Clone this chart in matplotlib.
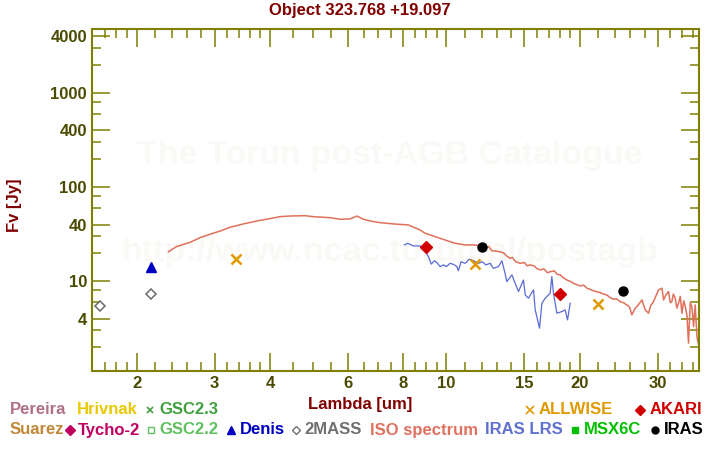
import matplotlib
matplotlib.use('Agg')
from matplotlib import pyplot as plt
from matplotlib.lines import Line2D
from matplotlib.ticker import FixedLocator, FixedFormatter, NullFormatter

plt.rcParams['font.family'] = ['Liberation Sans', 'DejaVu Sans']
plt.rcParams['font.weight'] = 'bold'

title = 'Object 323.768 +19.097'

# photometry, wavelength [um] and flux [Jy]
mass2_wl = [1.65, 2.16]
mass2_fx = [5.4, 7.4]
denis_wl = [2.15]
denis_fx = [14.3]
allwise_wl = [3.35, 11.6, 22.0]
allwise_fx = [17.1, 15.1, 5.7]
akari_wl = [9.0, 18.0]
akari_fx = [23.0, 7.3]
iras_wl = [12.0, 25.0]
iras_fx = [23.0, 7.9]

# ISO spectrum
iso_wl = [2.36, 2.46, 2.64, 2.78, 2.93, 3.09, 3.25, 3.48, 3.73, 4.00, 4.21, 4.44,
          4.80, 5.01, 5.47, 5.76, 6.06, 6.28, 6.50, 6.73, 7.09, 7.60, 8.21, 8.72,
          8.95, 9.43, 9.93, 10.46, 11.02, 11.61, 12.06, 12.3, 12.45, 12.66, 13.22,
          13.5, 13.7, 13.93, 14.1, 14.3, 14.67, 15.0, 15.2, 15.45, 15.8, 16.0,
          16.27, 16.6, 16.9, 17.14, 17.5, 17.8, 18.06, 18.3, 18.70, 19.0, 19.35,
          20.04, 20.4, 20.75, 21.1, 21.47, 22.23, 22.6, 23.01, 23.4, 23.82, 24.2,
          24.66, 25.1, 25.53, 25.9, 26.20, 26.66, 27.1, 27.61, 28.09, 28.58, 28.9,
          29.33, 29.7, 30.10, 30.64, 30.90, 31.3, 31.70, 32.0, 32.26, 32.5, 32.82,
          33.1, 33.39, 33.7, 33.99, 34.3, 34.58, 34.9, 35.17, 35.5, 35.80, 36.10,
          36.42, 36.74, 37.24, 38.0]
iso_fx = [20.6, 23.3, 25.9, 29.0, 31.6, 34.2, 37.4, 40.6, 43.6, 46.3, 48.5, 49.3,
          49.7, 48.5, 47.3, 45.5, 45.9, 49.3, 45.5, 43.6, 41.9, 40.6, 39.6, 35.0,
          32.3, 29.8, 27.4, 25.3, 24.3, 24.3, 23.3, 22.6, 23.4, 21.1, 20.6,
          19.8, 18.4, 17.5, 17.9, 16.2, 15.5, 15.8, 14.6, 14.9, 14.5, 13.6,
          13.2, 13.5, 12.3, 12.6, 12.9, 11.8, 11.7, 11.0, 10.3, 10.0, 9.5,
          8.9, 9.1, 8.43, 8.2, 7.89, 7.57, 7.3, 7.15, 6.7, 6.44, 6.5,
          6.07, 5.9, 5.60, 5.3, 4.39, 5.17, 5.6, 6.33, 4.96, 4.57, 5.5,
          6.07, 7.0, 8.09, 8.43, 6.33, 7.2, 7.76, 5.9, 6.07, 7.3, 6.60,
          5.2, 5.84, 6.9, 4.57, 6.2, 5.38, 4.3, 2.20, 5.9, 5.38, 3.30,
          5.60, 2.58, 1.87, 1.6]

# IRAS LRS spectrum
lrs_wl = [8.04, 8.18, 8.42, 8.72, 8.95, 9.11, 9.24, 9.40, 9.51, 9.68, 9.84, 10.0,
          10.19, 10.37, 10.56, 10.64, 10.79, 11.02, 11.25, 11.51, 11.81, 12.06,
          12.27, 12.55, 12.76, 13.10, 13.34, 13.50, 13.69, 14.05, 14.29, 14.54,
          14.92, 15.06, 15.31, 15.72, 15.86, 16.22, 16.42, 16.71, 17.14, 17.29,
          17.44, 17.75, 18.22, 18.53, 18.76, 19.02]
lrs_fx = [24.3, 25.3, 23.7, 23.7, 21.1, 18.2, 15.2, 16.5, 15.8, 14.3, 14.9, 14.3,
          15.5, 15.1, 14.3, 12.96, 16.1, 15.5, 17.1, 16.5, 15.5, 16.1,
          14.9, 15.5, 13.7, 14.3, 16.5, 13.2, 9.9, 11.7, 9.5, 7.76,
          10.3, 7.15, 6.60, 8.09, 4.96, 3.17, 5.84, 6.60, 7.46, 11.2,
          7.46, 4.57, 4.76, 4.96, 3.88, 5.84]

xticks = [2, 3, 4, 6, 8, 10, 15, 20, 30]
xminor = [1.7, 1.8, 1.9, 2.2, 2.4, 2.6, 2.8, 3.2, 3.4, 3.6, 3.8, 4.5, 5, 5.5,
          6.5, 7, 7.5, 8.5, 9, 9.5, 11, 12, 13, 14, 16, 17, 18, 19, 22, 24, 26,
          28, 32, 34, 36]
yticks = [4, 10, 40, 100, 400, 1000, 4000]
yminor = [2, 3, 6, 8, 20, 30, 60, 80, 200, 300, 600, 800, 2000, 3000]

olive = '#808000'
darkred = '#800000'
labcol = '#4a4a00'

fig = plt.figure(figsize=(7.2, 4.5), dpi=100)
ax = fig.add_axes([92.5 / 720, 1 - 370.7 / 450, (699.3 - 92.5) / 720, (370.7 - 29.3) / 450])

# faint watermark
ax.text(0.49, 0.63, 'The Torun post-AGB Catalogue', transform=ax.transAxes,
        ha='center', va='center', fontsize=24.5, color='#faf9f6', zorder=0)
ax.text(0.49, 0.345, 'http://www.ncac.torun.pl/postagb', transform=ax.transAxes,
        ha='center', va='center', fontsize=24.5, color='#faf9f6', zorder=0)

ax.plot(iso_wl, iso_fx, color='#e0705a', lw=1.1)
ax.plot(lrs_wl, lrs_fx, color='#5a6ad8', lw=0.9)
ax.plot(mass2_wl, mass2_fx, 'D', mfc='white', mec='#6a6a6a', ms=5.5, mew=1.1)
ax.plot(denis_wl, denis_fx, '^', color='#0000c0', ms=6.5)
ax.plot(allwise_wl, allwise_fx, 'x', color='#e09a00', ms=6.5, mew=1.8)
ax.plot(akari_wl, akari_fx, 'D', color='#d00000', ms=6.5)
ax.plot(iras_wl, iras_fx, 'o', color='black', ms=6.5)

ax.set_xscale('log')
ax.set_yscale('log')
ax.set_xlim(1.59, 37.2)
ax.set_ylim(1.12, 4750)

ax.xaxis.set_major_locator(FixedLocator(xticks))
ax.xaxis.set_major_formatter(FixedFormatter([str(v) for v in xticks]))
ax.xaxis.set_minor_locator(FixedLocator(xminor))
ax.xaxis.set_minor_formatter(NullFormatter())
ax.yaxis.set_major_locator(FixedLocator(yticks))
ax.yaxis.set_major_formatter(FixedFormatter([str(v) for v in yticks]))
ax.yaxis.set_minor_locator(FixedLocator(yminor))
ax.yaxis.set_minor_formatter(NullFormatter())

for s in ax.spines.values():
    s.set_color(olive)
    s.set_linewidth(1.5)
ax.tick_params(which='both', direction='in', top=True, right=True, color=olive, width=1.1)
ax.tick_params(which='major', length=13, labelsize=12, labelcolor=labcol, pad=4)
ax.tick_params(which='minor', length=6.5)

fig.text(0.5, 1 - 11 / 450, title, ha='center', va='center', fontsize=12, color=darkred)
fig.text(0.5, 1 - 405 / 450, 'Lambda [um]', ha='center', va='center', fontsize=12, color=darkred)
fig.text(15 / 720, 1 - 205 / 450, 'Fv [Jy]', ha='center', va='center', rotation=90,
         fontsize=12, color=darkred)

# legend rows under the plot
def legend_text(x, y, s, c):
    fig.text(x / 720, 1 - y / 450, s, ha='left', va='center', fontsize=12, color=c)

def legend_mark(x, y, m, c, ms, fill=True):
    fig.add_artist(Line2D([x / 720], [1 - y / 450], marker=m, ms=ms, color=c,
                          mfc=c if fill else 'white', mec=c, mew=1.2 if m == 'x' else 1.0,
                          transform=fig.transFigure))

r1, r2 = 410, 430
legend_text(10, r1, 'Pereira', '#b07088')
legend_text(77, r1, 'Hrivnak', '#e8c800')
legend_mark(150, r1, 'x', '#40a040', 4.5)
legend_text(159.5, r1, 'GSC2.3', '#40a040')
legend_mark(530, r1, 'x', '#e09a00', 6)
legend_text(539, r1, 'ALLWISE', '#e09a00')
legend_mark(640, r1, 'D', '#d00000', 5)
legend_text(649.5, r1, 'AKARI', '#d00000')

legend_text(10, r2, 'Suarez', '#c08838')
legend_mark(70, r2, 'D', '#c00060', 5)
legend_text(77.5, r2, 'Tycho-2', '#c00060')
legend_mark(151, r2, 's', '#60c060', 4.5, fill=False)
legend_text(159.5, r2, 'GSC2.2', '#60c060')
legend_mark(231, r2, '^', '#0000c0', 5.5)
legend_text(239.5, r2, 'Denis', '#0000c0')
legend_mark(296, r2, 'D', '#707070', 4.5, fill=False)
legend_text(304, r2, '2MASS', '#707070')
legend_text(370, r2, 'ISO spectrum', '#e07060')
legend_text(485, r2, 'IRAS LRS', '#6070d0')
legend_mark(575, r2, 's', '#00c000', 5)
legend_text(584, r2, 'MSX6C', '#00c000')
legend_mark(655, r2, 'o', 'black', 5)
legend_text(664, r2, 'IRAS', 'black')

fig.savefig('out.png', dpi=100)
